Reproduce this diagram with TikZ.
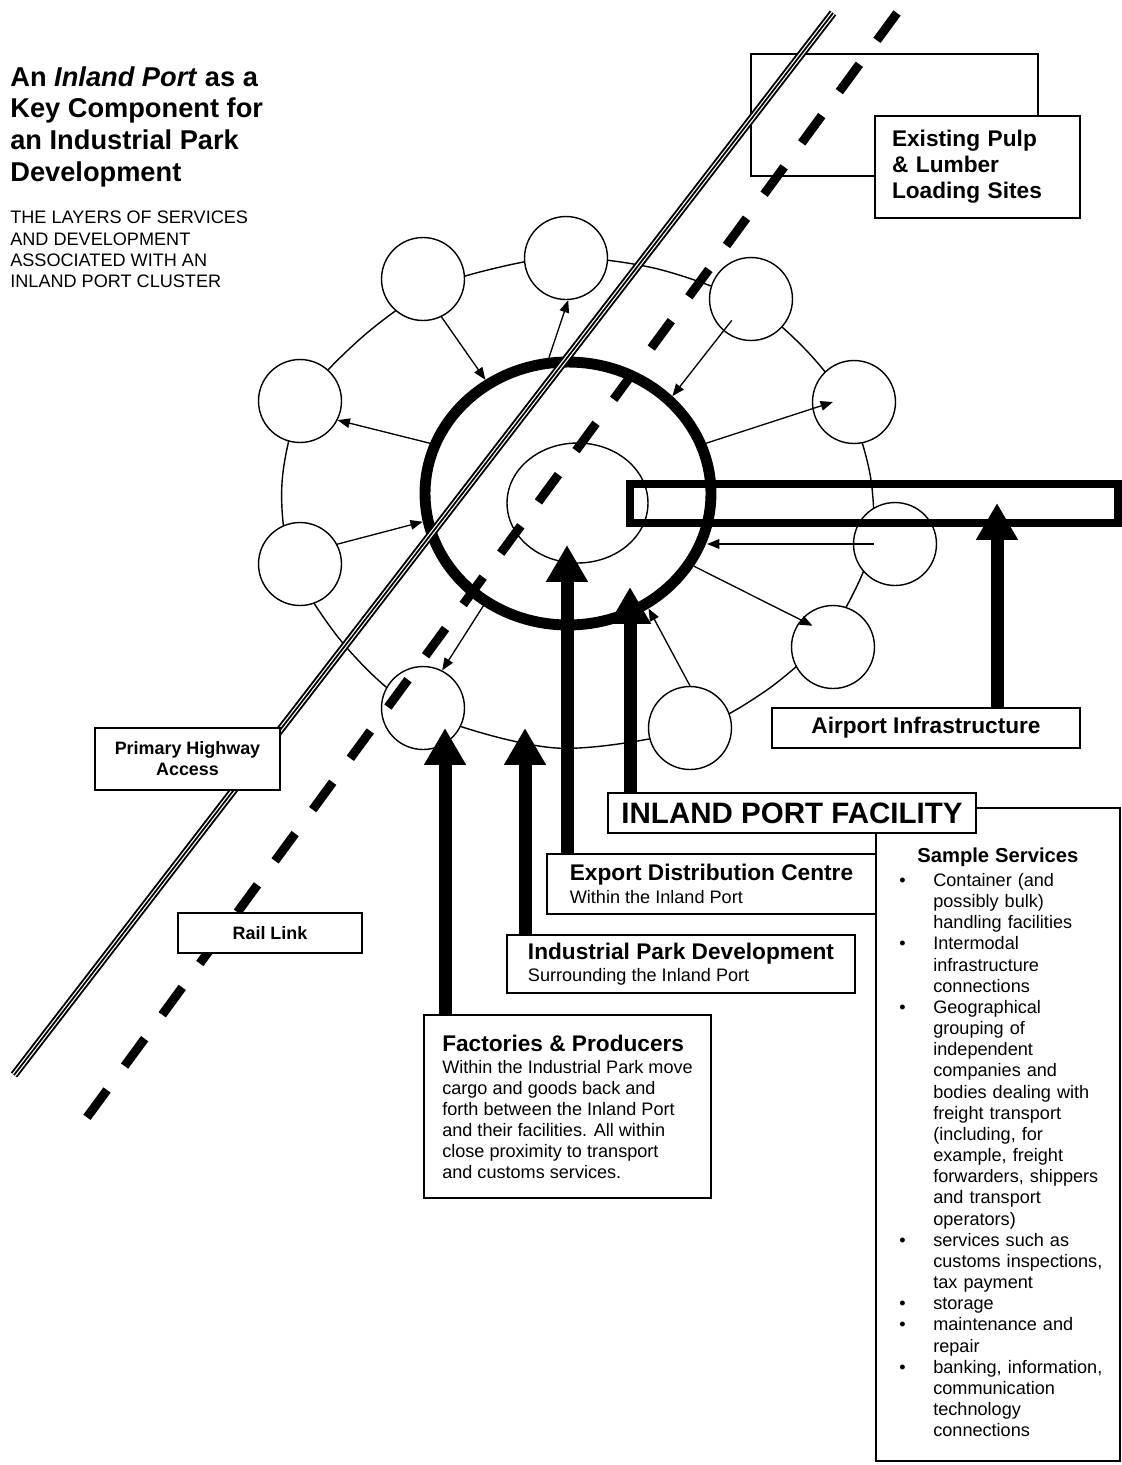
\documentclass[tikz,border=0pt]{standalone}
\usepackage{fontspec}
\setmainfont{Liberation Sans}
\usepackage{tikz}
\usetikzlibrary{arrows.meta,positioning,calc,shapes.geometric}
\newcommand{\hdfont}{\fontsize{12.9}{15}\selectfont\bfseries}
\newcommand{\bodyfont}{\fontsize{10.3}{11.9}\selectfont}
\newcommand{\svcitem}[1]{\noindent\makebox[0.68cm][l]{\strut\textbullet}\parbox[t]{3.6cm}{\raggedright #1\strut}\par}
\tikzset{
  tbox/.style={draw,fill=white,line width=1pt,inner sep=0pt,align=left},
  sat/.style={draw,fill=white,circle,line width=0.8pt,minimum size=1.66cm,inner sep=0pt},
  ringline/.style={line width=0.8pt},
  thinarr/.style={-{Triangle[length=7pt,width=5.5pt]},line width=0.75pt},
  bigarr/.style={-{Triangle[length=21pt,width=22.5pt]},line width=7.4pt},
  hwy/.style={line width=1.1pt,double distance=2.4pt},
  rail/.style={line width=5.1pt,dash pattern=on 19.3pt off 16.9pt},
}

\begin{document}
\begin{tikzpicture}[x=0.02cm,y=-0.02cm]
  \useasboundingbox (0,0) rectangle (1122,1465);

  % heading
  \node[anchor=north west,inner sep=0pt,align=left,font=\fontsize{15.5}{18.1}\selectfont\bfseries] (title) at (10,66)
    {An \textit{Inland Port} as a\\Key Component for\\an Industrial Park\\Development};
  \node[anchor=north west,inner sep=0pt,align=left,font=\fontsize{10.3}{12.1}\selectfont] (subtitle) at (10,211)
    {THE LAYERS OF SERVICES\\AND DEVELOPMENT\\ASSOCIATED WITH AN\\INLAND PORT CLUSTER};

  % loading sites (back frame)
  \node[draw,line width=1pt,minimum width=5.74cm,minimum height=2.44cm,inner sep=0pt] (pulpback) at (894.5,115) {};

  % outer ring of services
  \draw[ringline] plot[smooth cycle] coordinates {
    (428,290) (496,268) (567,257) (658,269) (748,302) (805,349) (848,405) (870,474)
    (873,540) (855,590) (824,640) (764,692) (690,730) (556,748) (423,712) (347,648)
    (292,563) (282,483) (302,403) (360,339)};

  % port core
  \node[draw,ellipse,line width=0.8pt,minimum width=2.82cm,minimum height=2.4cm,inner sep=0pt] (hub) at (577.5,503) {};
  \node[draw,ellipse,line width=6.2pt,minimum width=5.72cm,minimum height=5.26cm,inner sep=0pt] (port) at (568,493.5) {};

  % satellites
  \node[sat] (s1) at (423,279) {};
  \node[sat] (s2) at (566,258) {};
  \node[sat] (s3) at (751,299) {};
  \node[sat] (s4) at (854,402) {};
  \node[sat] (s5) at (895,544) {};
  \node[sat] (s6) at (833,647) {};
  \node[sat] (s7) at (690,728) {};
  \node[sat] (s8) at (423,708) {};
  \node[sat] (s9) at (300,564) {};
  \node[sat] (s10) at (300,401) {};

  \draw[thinarr] (s1.-64) -- (port.126);
  \draw[thinarr] (port.98) -- (s2.-87);
  \draw[thinarr] ($(s3.center)!0.68!(s3.-132)$) -- (port.43);
  \draw[thinarr] (port.20) -- ($(s4.center)!0.5!(s4.west)$);
  \draw[thinarr] ($(s5.center)!0.5!(s5.west)$) -- (port.-19 |- s5.center);
  \draw[thinarr] (port.-30) -- ($(s6.center)!0.7!(s6.134)$);
  \draw[thinarr] (s7.north) -- (port.-55);
  \draw[thinarr] (port.-127) -- (s8.63);
  \draw[thinarr] (s9.28) -- (port.191);
  \draw[thinarr] (port.160) -- (s10.-27);

  % airport strip
  \node[draw,line width=4.5pt,minimum width=9.76cm,minimum height=0.78cm,inner sep=0pt] (strip) at (874,503.5) {};

  % highway and rail
  \coordinate (hwyN) at (833,13);
  \coordinate (hwyS) at (14,1075);
  \draw[hwy] (hwyN) -- (hwyS);
  \draw[line width=1pt] (hwyN) -- (hwyS);
  \coordinate (railN) at (897,13);
  \coordinate (railS) at (85,1120);
  \draw[rail] (railN) -- (railS);

  % labels
  \node[tbox,minimum width=4.1cm,minimum height=2.04cm,text width=3.42cm,font=\fontsize{12.9}{14.7}\selectfont\bfseries] (pulp) at (977.5,167)
    {Existing Pulp\\\& Lumber\\Loading Sites};
  \node[tbox,minimum width=3.7cm,minimum height=1.24cm,align=center,font=\fontsize{10.2}{12}\selectfont\bfseries] (hwybox) at (187.5,759)
    {Primary Highway\\Access};
  \node[tbox,minimum width=3.68cm,minimum height=0.8cm,font=\fontsize{10.2}{12}\selectfont\bfseries] (railbox) at (270,933) {Rail Link};
  \node[tbox,minimum width=6.16cm,minimum height=0.8cm,font=\fontsize{12.9}{15}\selectfont\bfseries] (airport) at (926,728) {\raisebox{-2pt}{Airport Infrastructure}};
  \node[tbox,minimum width=6.58cm,minimum height=1.2cm,font=\bodyfont] (edc) at (711.5,884)
    {{\hdfont Export Distribution Centre}\\[1pt]Within the Inland Port};
  \node[tbox,minimum width=4.88cm,minimum height=13.06cm] (svc) at (998,1134.5) {};
  \node[tbox,minimum width=7.36cm,minimum height=0.8cm,font=\fontsize{16.8}{19}\selectfont\bfseries] (ipf) at (792,813) {INLAND PORT FACILITY};
  \node[tbox,minimum width=6.96cm,minimum height=1.16cm,font=\bodyfont] (ipd) at (681,964)
    {{\hdfont Industrial Park Development}\\[1pt]Surrounding the Inland Port};
  \node[tbox,minimum width=5.74cm,minimum height=3.66cm,font=\bodyfont] (fact) at (567.5,1106.5)
    {{\hdfont Factories \& Producers}\\[1pt]Within the Industrial Park move\\cargo and goods back and\\forth between the Inland Port\\and their facilities. All within\\close proximity to transport\\and customs services.};

  \node[anchor=north west,inner sep=0pt,text width=4.3cm,align=left,font=\fontsize{10.3}{12.05}\selectfont] (svclist) at (899,847) {%
    \lineskip=0pt
    \noindent\hspace*{0.36cm}{\fontsize{11.5}{13}\selectfont\bfseries Sample Services}\par\vspace{1.8pt}
    \svcitem{Container (and\\possibly bulk)\\handling facilities}
    \svcitem{Intermodal\\infrastructure\\connections}
    \svcitem{Geographical\\grouping of\\independent\\companies and\\bodies dealing with\\freight transport\\(including, for\\example, freight\\forwarders, shippers\\and transport\\operators)}
    \svcitem{services such as\\customs inspections,\\tax payment}
    \svcitem{storage}
    \svcitem{maintenance and\\repair}
    \svcitem{banking, information,\\communication\\technology\\connections}};

  % big arrows
  \coordinate (tipA) at (445,728);
  \coordinate (tipB) at (525,728);
  \coordinate (tipC) at (567,545);
  \coordinate (tipD) at (630,587);
  \coordinate (tipE) at (997,503);
  \draw[bigarr] (tipA |- fact.north) -- (tipA);
  \draw[bigarr] (tipB |- ipd.north) -- (tipB);
  \draw[bigarr] (tipC |- edc.north) -- (tipC);
  \draw[bigarr] (tipD |- ipf.north) -- (tipD);
  \draw[bigarr] (tipE |- airport.north) -- (tipE);
\end{tikzpicture}
\end{document}
